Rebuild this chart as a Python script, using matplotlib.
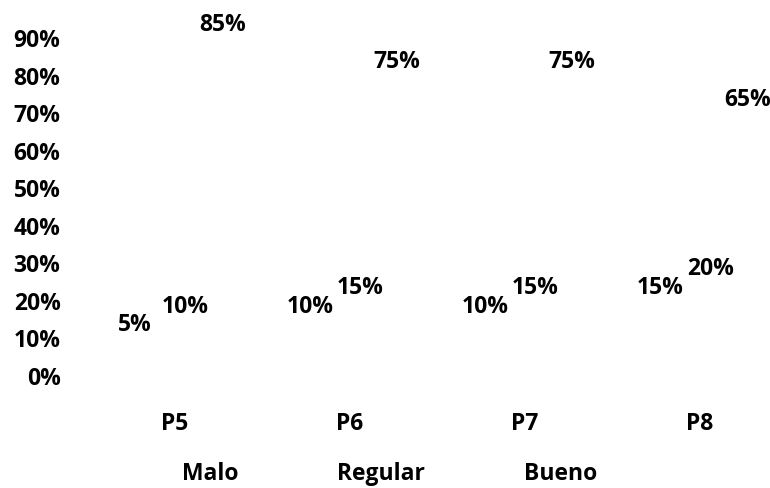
import numpy as np
import matplotlib
matplotlib.use("Agg")
import matplotlib.pyplot as plt
from matplotlib.patches import Patch

# data
preguntas = ["P5", "P6", "P7", "P8"]
malo = [5, 10, 10, 15]
regular = [10, 15, 15, 20]
bueno = [85, 75, 75, 65]
series_names = ["Malo", "Regular", "Bueno"]
yticks = list(range(0, 100, 10))

plt.rcParams["font.family"] = ["Open Sans", "DejaVu Sans"]
plt.rcParams["font.weight"] = "bold"

fig = plt.figure(figsize=(7.7, 4.88), dpi=100)
ax = fig.add_axes([80 / 770, 112 / 488, 690 / 770, 338 / 488])

x = np.arange(len(preguntas))
shifts = [-0.23, 0.06, 0.27]
width = 0.25
for vals, name, s in zip([malo, regular, bueno], series_names, shifts):
    bars = ax.bar(x + s, vals, width, color="white", label=name)
    for b, v in zip(bars, vals):
        ax.text(b.get_x() + b.get_width() / 2, v + 8.5, "%d%%" % v,
                ha="center", va="center", fontsize=16.5, fontweight="bold",
                clip_on=False)

ax.set_xlim(-0.543, 3.40)
ax.set_ylim(0, 90)
ax.set_yticks(yticks)
ax.set_yticklabels(["%d%%" % t for t in yticks])
ax.set_xticks(x)
ax.set_xticklabels(preguntas)
ax.tick_params(axis="y", length=0, pad=14, labelsize=16.5)
ax.tick_params(axis="x", length=0, pad=26, labelsize=16.5)
for sp in ax.spines.values():
    sp.set_visible(False)

handles = [Patch(facecolor="white", edgecolor="none") for _ in series_names]
fig.legend(handles, series_names, loc="center", bbox_to_anchor=(369 / 770, 14 / 488),
           ncol=3, frameon=False, fontsize=16.5, handlelength=1.0, columnspacing=2.5)

fig.savefig("out.png", dpi=100)
